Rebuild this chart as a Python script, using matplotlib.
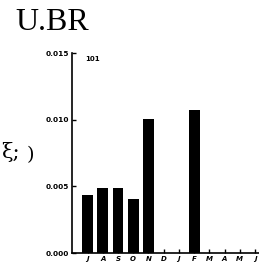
import numpy as np
import matplotlib
matplotlib.use('Agg')
import matplotlib.pyplot as plt

months = ['J', 'A', 'S', 'O', 'N', 'D', 'J', 'F', 'M', 'A', 'M', 'J']
values = [0.00435, 0.0049, 0.0049, 0.00405, 0.01005, 0.0, 0.0, 0.0107, 0.0, 0.0, 0.0, 0.0]
yticks = [0.000, 0.005, 0.010, 0.015]

fig = plt.figure(figsize=(2.59, 2.64), dpi=100)
ax = fig.add_axes([72 / 259, 11 / 264, 187 / 259, 200 / 264])

x = np.arange(len(months))
ax.bar(x, values, width=0.72, color='black')

ax.set_xlim(-1.02, 11.26)
ax.set_ylim(0, 0.015)
ax.set_yticks(yticks)
ax.set_yticklabels(['%.3f' % v for v in yticks], fontsize=5.3, fontweight='bold')
ax.set_xticks(x)
ax.set_xticklabels(months, fontsize=5, fontweight='bold', style='italic')

ax.spines['top'].set_visible(False)
ax.spines['right'].set_visible(False)
ax.spines['left'].set_linewidth(1.2)
ax.spines['bottom'].set_linewidth(1.2)
ax.tick_params(axis='both', direction='in', length=3, width=1, pad=2)

ax.text(0.07, 0.985, '101', transform=ax.transAxes, fontsize=5, fontweight='bold', va='top')

# title and the clipped side label
fig.text(15 / 259, 1 - 23 / 264, 'U.BR', fontsize=23, family='Liberation Serif', va='center')
fig.text(1 / 259, 1 - 152 / 264, 'ξ;', fontsize=15, family='DejaVu Serif', va='center')
fig.text(27 / 259, 1 - 155 / 264, ')', fontsize=14, family='DejaVu Serif', va='center')

fig.savefig('out.png', dpi=100)
